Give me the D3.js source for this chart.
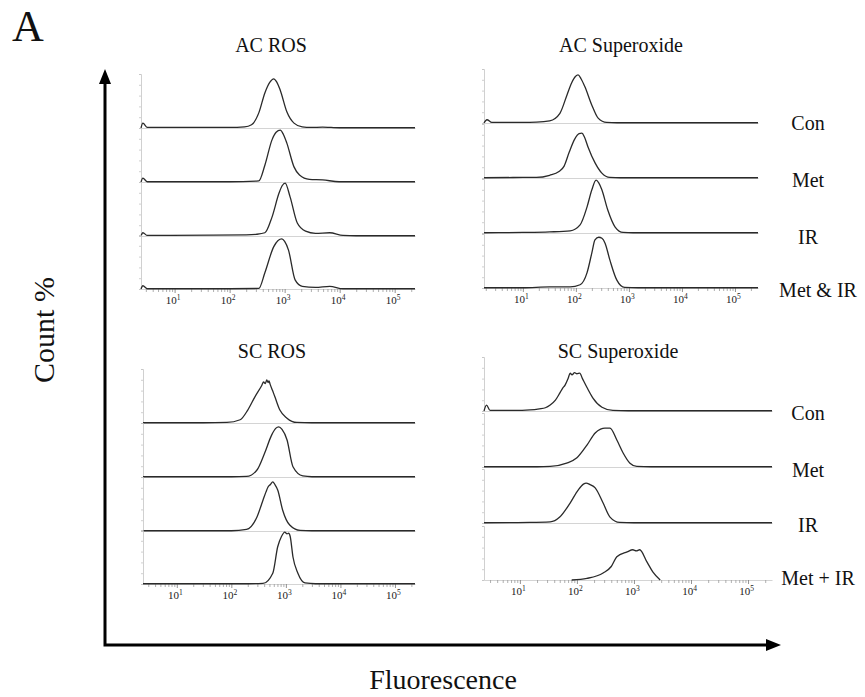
<!DOCTYPE html>
<html><head><meta charset="utf-8">
<script src="https://cdn.jsdelivr.net/npm/d3@7"></script>
<style>body{margin:0;background:#fff}</style>
</head><body><svg id="c" width="865" height="697"></svg>
<script>
// ---------- DATA: [fluorescence, count %] ----------
const acRosCon   = [[2.45,0],[2.65,9],[3.2,1],[10,1],[100,1],[186,2],[250,6],[339,28],[437,65],[540,85],[631,91],[720,85],[832,70],[1096,30],[1479,9],[2089,2],[3000,1],[4898,1.5],[7000,1],[12000,0.5],[234000,0.5]];
const acRosMet   = [[2.45,0],[2.65,7],[3.2,0.5],[100,0.5],[339,2],[437,31],[589,78],[700,92],[832,96],[950,88],[1096,72],[1479,28],[1862,13],[2818,5],[4898,4],[9772,0.5],[234000,0.5]];
const acRosIR    = [[2.45,0],[2.65,6],[3.2,1],[50,1.5],[200,2],[300,3],[437,6],[589,35],[794,80],[900,93],[1020,98],[1259,72],[1698,24],[2399,9],[3631,5],[6607,6],[11482,1],[20000,0.5],[234000,0.5]];
const acRosMetIR = [[2.45,0],[2.65,6],[3.2,0.5],[100,0.5],[339,1],[437,30],[631,78],[760,90],[890,93],[1000,88],[1175,72],[1549,17],[2089,5],[3631,3],[6607,5],[11482,0.5],[234000,0.5]];

const acSupCon   = [[1.85,0],[2.1,6],[2.6,1],[10,1],[18,1.5],[32,4],[50,18],[68,52],[83,74],[98,86],[110,89],[125,82],[148,67],[200,33],[263,9],[380,1],[600,0.5],[272000,0.5]];
const acSupMet   = [[1.85,0.5],[10,1],[18,1],[32,5],[48,12],[60,22],[75,48],[95,72],[115,82],[130,83],[145,76],[170,57],[230,28],[309,9],[437,1],[700,0.5],[272000,0.5]];
const acSupIR    = [[1.85,0.5],[10,1],[32,2],[78,4],[120,15],[162,48],[200,80],[240,98],[270,93],[309,80],[398,43],[550,11],[776,1],[1200,0.5],[272000,0.5]];
const acSupMetIR = [[1.85,0.5],[10,0.5],[32,2],[78,2],[120,6],[162,28],[200,65],[229,89],[270,94],[310,92],[355,83],[437,52],[589,15],[832,1],[1500,0.5],[272000,0.5]];

const scRosCon   = [[2.4,0.5],[30,0.5],[83,1],[145,6],[200,24],[269,48],[363,70],[390,76],[420,73],[447,80],[470,75],[490,78],[513,72],[570,60],[631,48],[776,24],[1047,9],[1585,1],[3000,0.5],[233000,0.5]];
const scRosMet   = [[2.4,0.5],[100,0.5],[190,1],[295,13],[407,44],[550,78],[650,90],[741,93],[850,88],[1047,69],[1349,19],[2042,2],[3000,0.5],[233000,0.5]];
const scRosIR    = [[2.4,0.5],[100,0.5],[190,3],[295,26],[380,57],[430,72],[468,81],[520,86],[575,91],[630,86],[708,76],[871,39],[1175,11],[1820,1],[3000,0.5],[233000,0.5]];
const scRosMetIR = [[2.4,0.5],[200,0.5],[380,1],[575,20],[708,69],[830,88],[955,96],[1050,93],[1122,94],[1200,88],[1349,50],[1660,20],[2239,2],[3500,0.5],[233000,0.5]];

const scSupCon   = [[2.35,0],[2.6,11],[3,1],[8,1],[15,2],[22,4],[28,6],[34,11],[42,20],[50,33],[56,42],[62,48],[70,60],[76,70],[82,67],[91,71],[100,69],[112,70],[125,60],[151,43],[191,24],[275,7],[427,1],[800,0.5],[263000,0.5]];
const scSupMet   = [[2.35,0.5],[20,0.5],[34,1],[66,7],[100,17],[151,41],[209,63],[260,70],[309,72],[380,72],[501,50],[646,26],[851,7],[1122,1],[2000,0.5],[263000,0.5]];
const scSupIR    = [[2.35,0.5],[15,1],[34,2],[50,11],[76,37],[105,61],[130,72],[145,74],[170,71],[209,65],[288,37],[380,11],[562,1],[1000,0.5],[263000,0.5]];
const scSupMetIR = [[81,0],[150,3],[288,13],[400,25],[501,43],[759,52],[955,56],[1100,54],[1259,56],[1698,33],[2138,15],[2884,0]];

const panelTitles = ["AC ROS","AC Superoxide","SC ROS","SC Superoxide"];
const rowLabelsTop = ["Con","Met","IR","Met & IR"];
const rowLabelsBottom = ["Con","Met","IR","Met + IR"];
const decadeTicks = [10,100,1000,10000,100000];
const decadeExp = ["1","2","3","4","5"];

// ---------- LAYOUT ----------
const FONT = "'Liberation Serif','Times New Roman',serif";
const ROWH = 54;
const panels = [
  {title:panelTitles[0], series:[acRosCon,acRosMet,acRosIR,acRosMetIR], xDom:[2.45,234000], xr:[141,415], base:[128,182,236,289], tx:271, ty:52},
  {title:panelTitles[1], series:[acSupCon,acSupMet,acSupIR,acSupMetIR], xDom:[1.85,272000], xr:[484,758], base:[123,178,233,288], tx:621, ty:52},
  {title:panelTitles[2], series:[scRosCon,scRosMet,scRosIR,scRosMetIR], xDom:[2.4,233000], xr:[143,415], base:[423,477,531,584], tx:272, ty:358},
  {title:panelTitles[3], series:[scSupCon,scSupMet,scSupIR,scSupMetIR], xDom:[2.35,263000], xr:[484,772], base:[411,467,523,580], tx:618, ty:358}
];

const svg = d3.select("#c");
svg.append("rect").attr("width",865).attr("height",697).attr("fill","#fff");

panels.forEach(p => {
  const x = d3.scaleLog().domain(p.xDom).range(p.xr);
  const tv = [];
  for (let e = 0; e <= 5; e++) for (let m = 1; m <= 9; m++) {
    const v = m * Math.pow(10, e);
    if (v >= p.xDom[0] && v <= p.xDom[1]) tv.push(v);
  }
  const g = svg.append("g");
  g.append("text").attr("x",p.tx).attr("y",p.ty).attr("text-anchor","middle")
    .attr("font-family",FONT).attr("font-size",20).attr("fill","#111").text(p.title);

  p.series.forEach((s, i) => {
    const b = p.base[i];
    const y = d3.scaleLinear().domain([0,100]).range([b, b - ROWH]);
    const isLast = i === p.series.length - 1;
    const ya = g.append("g").attr("transform",`translate(${p.xr[0]},0)`)
      .call(d3.axisLeft(y).tickValues([0,20,40,60,80,100]).tickSize(2).tickFormat(""));
    ya.selectAll("path,line").attr("stroke","#c4c4c4").attr("stroke-width",0.8);
    const xa = g.append("g").attr("transform",`translate(0,${b})`)
      .call(d3.axisBottom(x).tickValues(isLast ? tv : []).tickSizeOuter(0)
        .tickSizeInner(3).tickPadding(4).tickFormat(""));
    xa.selectAll("path").attr("stroke", "#d4d4d4").attr("stroke-width",1.2);
    xa.selectAll("line").attr("stroke","#9a9a9a").attr("stroke-width",0.8);
    if (isLast) {
      xa.selectAll(".tick").filter(d => decadeTicks.includes(d)).each(function(d){
        const t = d3.select(this).select("text");
        t.attr("font-family",FONT).attr("font-size",11).attr("fill","#222").attr("x",-2).text("10");
        t.append("tspan").attr("dy",-4).attr("font-size",7.5).text(decadeExp[decadeTicks.indexOf(d)]);
        d3.select(this).select("line").attr("y2",4).attr("stroke","#777");
      });
    }
    const line = d3.line().x(d => x(d[0])).y(d => y(d[1])).curve(d3.curveMonotoneX);
    g.append("path").datum(s).attr("d",line).attr("fill","none")
      .attr("stroke","#2a2a2a").attr("stroke-width",1.3).attr("stroke-linejoin","round");
  });
});

const lblTopY = [130,187,244,297], lblBotY = [420,477,532,585];
rowLabelsTop.forEach((t,i) => svg.append("text").attr("x", i===3?818:808).attr("y",lblTopY[i])
  .attr("text-anchor","middle").attr("font-family",FONT).attr("font-size",20).attr("fill","#111").text(t));
rowLabelsBottom.forEach((t,i) => svg.append("text").attr("x", i===3?818:808).attr("y",lblBotY[i])
  .attr("text-anchor","middle").attr("font-family",FONT).attr("font-size",20).attr("fill","#111").text(t));

svg.append("path").attr("d","M105,646 L105,82 M103.5,645 L768,645").attr("stroke","#000").attr("stroke-width",3).attr("fill","none");
svg.append("path").attr("d","M99,84 L105,69 L111,84 Z").attr("fill","#000");
svg.append("path").attr("d","M766,639 L781,645 L766,651 Z").attr("fill","#000");

svg.append("text").attr("x",12).attr("y",41).attr("font-family",FONT).attr("font-size",44).attr("fill","#111").text("A");
svg.append("text").attr("transform","translate(54,330) rotate(-90)").attr("text-anchor","middle")
  .attr("font-family",FONT).attr("font-size",30).attr("fill","#111").text("Count %");
svg.append("text").attr("x",443).attr("y",689).attr("text-anchor","middle")
  .attr("font-family",FONT).attr("font-size",28).attr("fill","#111").text("Fluorescence");
</script></body></html>
